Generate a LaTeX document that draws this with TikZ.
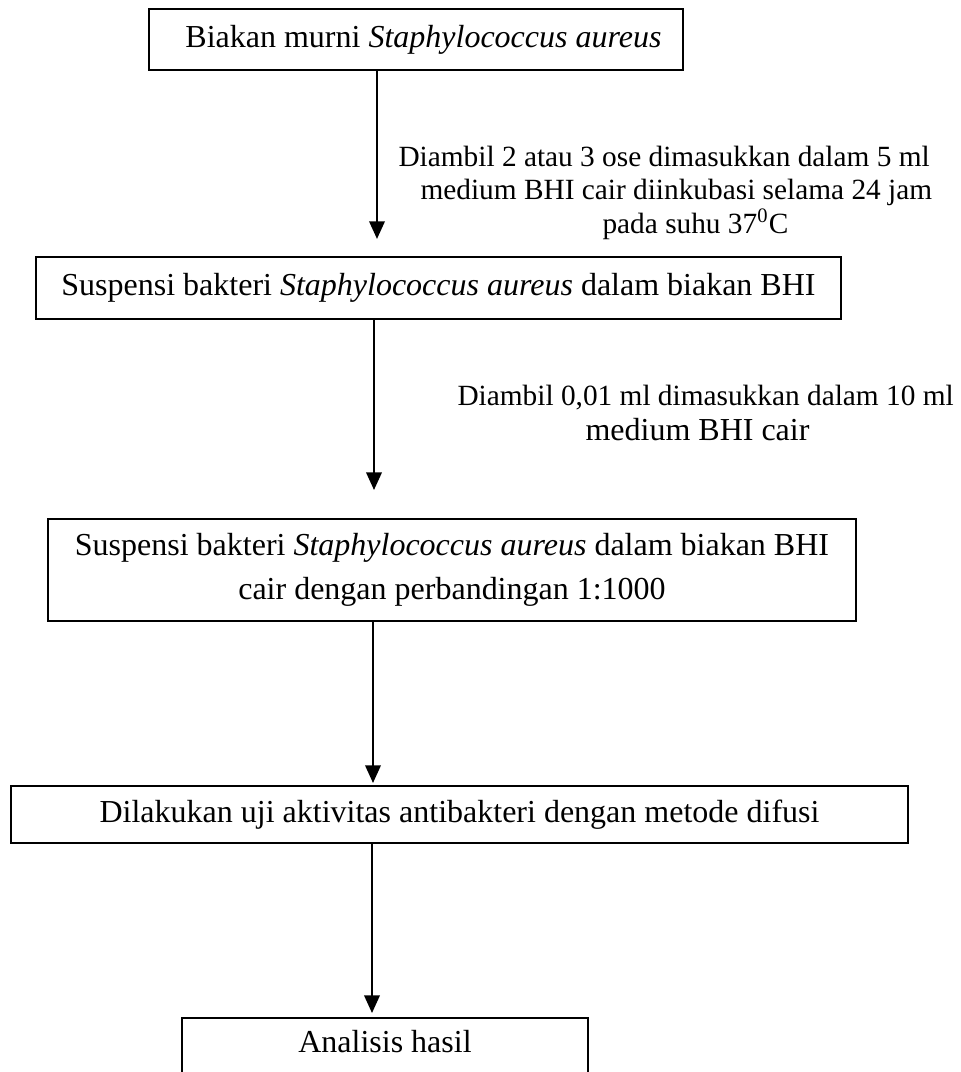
\documentclass[tikz,border=0pt]{standalone}
\usepackage{fontspec}
\setmainfont{Liberation Serif}
\usetikzlibrary{arrows.meta}
\begin{document}
\begin{tikzpicture}[x=0.375pt,y=-0.375pt,
  box/.style={draw,line width=0.75pt,inner sep=0pt,align=center,font=\fontsize{12pt}{16.5pt}\selectfont},
  lbl/.style={anchor=base west,inner sep=0pt,font=\fontsize{11pt}{13pt}\selectfont},
  arr/.style={line width=0.75pt,-{Triangle[width=5.8pt,length=6.6pt]}}]
\useasboundingbox (0,0) rectangle (960,1072);
\clip (0,0) rectangle (960,1072);
% boxes
\node[box,minimum width=200.25pt,minimum height=22.7pt] (b1) at (416,39.75)
  {\hspace*{5.6pt}Biakan murni \textit{Staphylococcus aureus}};
\node[box,minimum width=301.9pt,minimum height=23.25pt] (b2) at (438.5,288)
  {Suspensi bakteri \textit{Staphylococcus aureus} dalam biakan BHI};
\node[box,minimum width=303pt,minimum height=38.25pt] (b3) at (452,570)
  {Suspensi bakteri \textit{Staphylococcus aureus} dalam biakan BHI\\cair dengan perbandingan 1:1000};
\node[box,minimum width=336.4pt,minimum height=21.4pt] (b4) at (459.5,814.5)
  {Dilakukan uji aktivitas antibakteri dengan metode difusi};
\node[box,anchor=north,minimum width=152.25pt,text height=12.75pt,text depth=30pt] (b5) at (385,1017)
  {Analisis hasil};
% labels
\node[lbl] (l1a) at (398,166) {Diambil 2 atau 3 ose dimasukkan dalam 5 ml};
\node[lbl] (l1b) at (420,199) {medium BHI cair diinkubasi selama 24 jam};
\node[lbl] (l1c) at (602,233) {pada suhu 37\textsuperscript{0}C};
\node[lbl] (l2a) at (457,405) {Diambil 0,01 ml dimasukkan dalam 10 ml};
\node[lbl,font=\fontsize{12pt}{14pt}\selectfont] (l2b) at (585,440) {medium BHI cair};
% arrows
\coordinate (a1) at (377,0);
\coordinate (a2) at (374,0);
\coordinate (a3) at (373,0);
\coordinate (a4) at (372,0);
\draw[arr,shorten >=6.4pt] (b1.south -| a1) -- (b2.north -| a1);
\draw[arr,shorten >=10.5pt] (b2.south -| a2) -- (b3.north -| a2);
\draw[arr,shorten >=0.75pt] (b3.south -| a3) -- (b4.north -| a3);
\draw[arr,shorten >=1.5pt] (b4.south -| a4) -- (b5.north -| a4);
\end{tikzpicture}
\end{document}
